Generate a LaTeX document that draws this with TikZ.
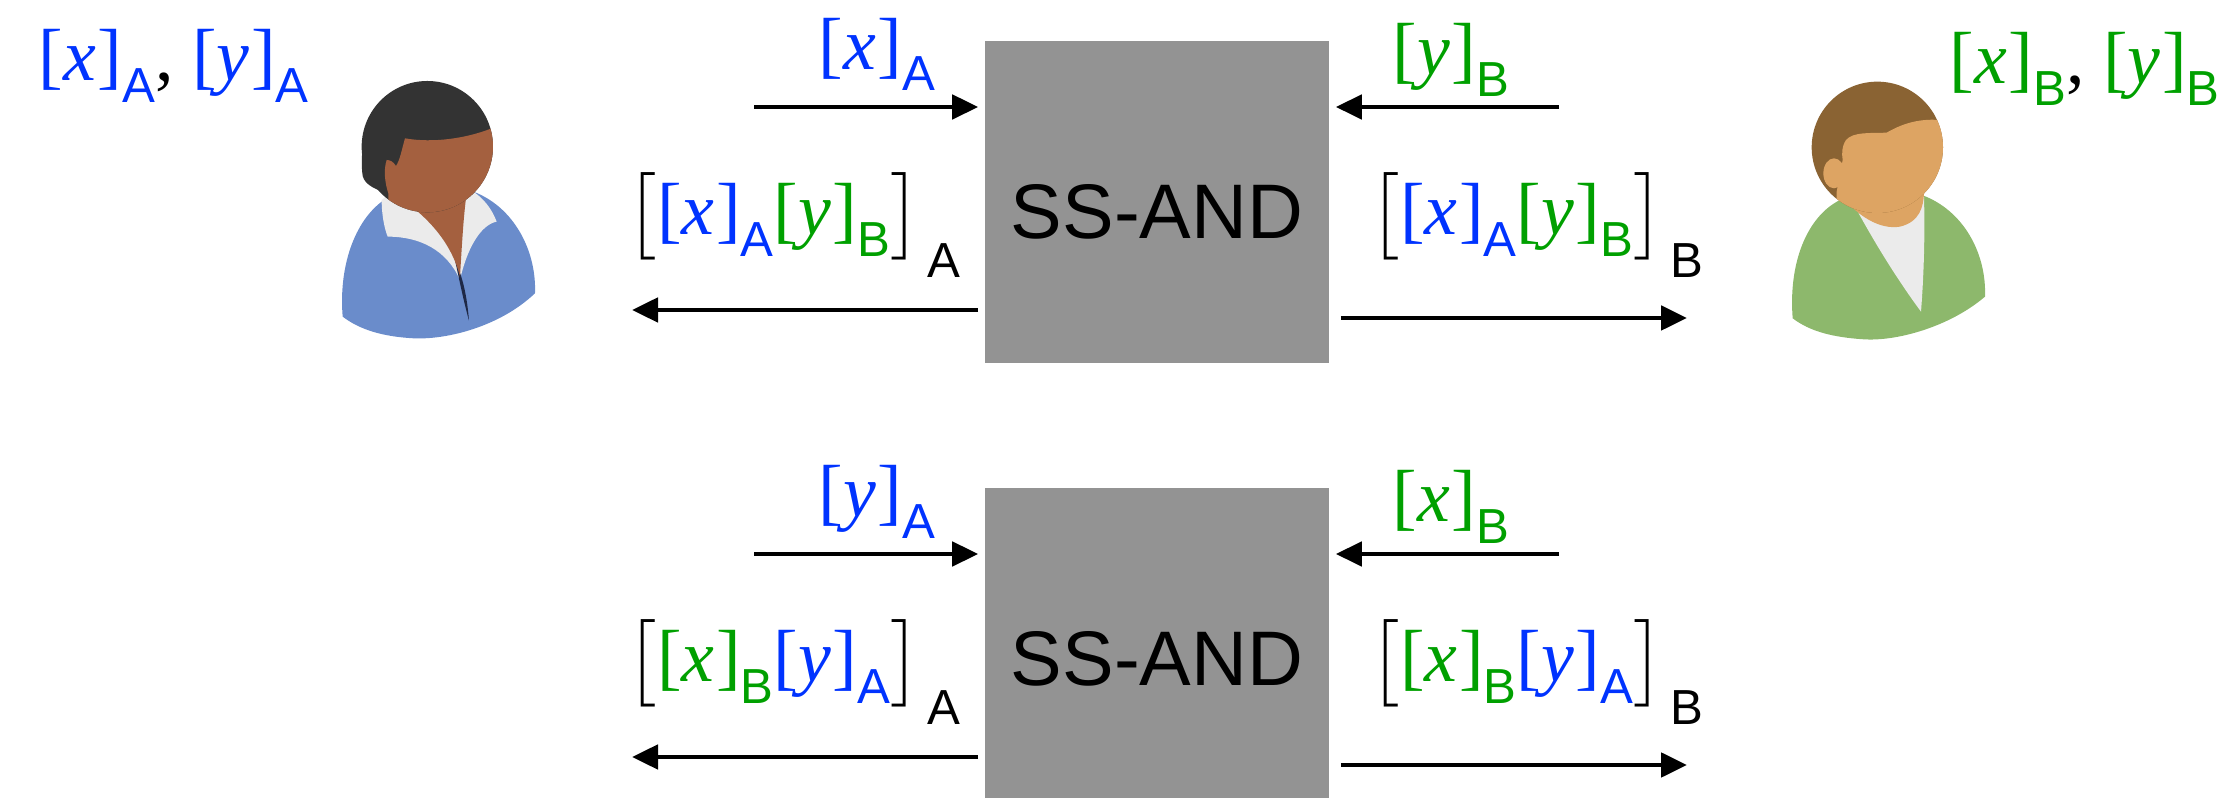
\documentclass[tikz,border=0pt]{standalone}
\usepackage{amsmath}
\usepackage{fontspec}
\setmainfont{Liberation Serif}
\setsansfont{Liberation Sans}
\usepackage{xcolor}
\usepackage{tikz}
\usetikzlibrary{positioning,arrows.meta}

\definecolor{shareA}{RGB}{0,51,255}
\definecolor{shareB}{RGB}{0,160,0}
\definecolor{gatefill}{RGB}{147,147,147}
\definecolor{aliceshirt}{RGB}{106,140,203}
\definecolor{aliceskin}{RGB}{164,96,63}
\definecolor{alicehair}{RGB}{51,51,51}
\definecolor{alicedark}{RGB}{30,40,70}
\definecolor{collar}{RGB}{235,235,235}
\definecolor{bobshirt}{RGB}{141,184,108}
\definecolor{bobskin}{RGB}{221,164,99}
\definecolor{bobhair}{RGB}{138,99,51}

% share notation: [v]_P in the colour of its owner
\newcommand{\subfont}{\fontsize{14}{14}\selectfont\sffamily}
\newcommand{\shr}[3]{\textcolor{#3}{[\textit{#1}\kern0.5pt]\lower0.21cm\hbox{\subfont #2}}}
\newcommand{\wrap}[3]{$\bigl[$#1#2$\bigr]$\kern2pt\lower0.42cm\hbox{\subfont #3}}

\begin{document}
\begin{tikzpicture}[x=0.01cm, y=-0.01cm,
    gate/.style={fill=gatefill, minimum width=3.43cm, minimum height=3.22cm,
        inner sep=0pt, text height=0.73cm, font=\fontsize{22}{26}\selectfont\sffamily},
    lbl/.style={anchor=base west, inner sep=0pt, font=\fontsize{21}{25}\selectfont},
    flow/.style={-{Triangle[length=0.26cm,width=0.24cm]}, line width=1.4pt}]
    \useasboundingbox (0,0) rectangle (2240,798);

    % Alice
    \begin{scope}[shift={(320,50)}, scale=0.3333]
        \fill[aliceshirt] (68,800) .. controls (55,640) and (110,500) .. (200,445)
            -- (460,425) .. controls (580,470) and (650,600) .. (645,730)
            .. controls (540,830) and (380,870) .. (280,865)
            .. controls (190,860) and (120,840) .. (68,800) -- cycle;
        \fill[collar] (185,450) .. controls (185,500) and (195,540) .. (203,560)
            .. controls (300,560) and (380,600) .. (420,690)
            .. controls (440,600) and (480,525) .. (530,515)
            .. controls (515,475) and (490,445) .. (460,425) -- (210,430) -- cycle;
        \fill[alicedark] (405,630) .. controls (432,690) and (442,750) .. (447,812)
            .. controls (430,750) and (418,690) .. (405,630) -- cycle;
        \fill[aliceskin] (205,420) .. controls (300,480) and (390,560) .. (420,680)
            .. controls (425,600) and (430,500) .. (440,430) -- cycle;
        % head: hair first, face cut out of it
        \fill[alicehair] (322,290) circle (197);
        \fill[alicehair] (205,430) .. controls (150,415) and (128,395) .. (127,370)
            .. controls (120,300) and (135,250) .. (160,200) -- (200,330)
            .. controls (190,360) and (195,400) .. (205,430) -- cycle;
        \begin{scope}
            \clip (322,290) circle (197);
            \fill[aliceskin] (515,235) .. controls (440,265) and (340,280) .. (255,265)
                .. controls (245,300) and (240,330) .. (228,348)
                .. controls (220,335) and (210,330) .. (200,330)
                .. controls (190,360) and (195,400) .. (205,430)
                -- (205,700) -- (700,700) -- (700,235) -- cycle;
        \end{scope}
    \end{scope}

    % Bob
    \begin{scope}[shift={(1770,50)}, scale=0.3333]
        \fill[bobshirt] (68,805) .. controls (55,640) and (110,500) .. (210,450)
            -- (455,435) .. controls (580,480) and (650,610) .. (645,740)
            .. controls (540,830) and (380,875) .. (280,868)
            .. controls (190,862) and (120,845) .. (68,805) -- cycle;
        \fill[collar] (255,470) .. controls (320,590) and (390,700) .. (453,785)
            .. controls (462,670) and (465,550) .. (462,440) -- cycle;
        \fill[bobskin] (200,420) .. controls (260,500) and (330,540) .. (390,530)
            .. controls (450,515) and (460,470) .. (462,430) -- cycle;
        \fill[bobhair] (322,292) circle (197);
        \begin{scope}
            \clip (322,292) circle (197);
            \fill[bobskin] (508,210) .. controls (440,205) and (390,225) .. (350,248)
                .. controls (300,250) and (250,245) .. (228,270)
                .. controls (215,290) and (215,310) .. (218,330)
                -- (200,425) -- (200,700) -- (700,700) -- (700,210) -- cycle;
        \end{scope}
        \fill[bobskin] (192,370) ellipse (32 and 45);
    \end{scope}

    % initial shares
    \node[lbl] (sharesA) at (38,81) {\shr{x}{A}{shareA},\ \shr{y}{A}{shareA}};
    \node[lbl] (sharesB) at (1949,84) {\shr{x}{B}{shareB},\ \shr{y}{B}{shareB}};

    % first AND: [x]_A with [y]_B
    \node[gate] (andA) at (1157,202) {SS-AND};
    \coordinate (inA1) at (754,107);
    \coordinate (inB1) at (1559,107);
    \coordinate (outA1) at (632,310);
    \coordinate (outB1) at (1687,318);
    \draw[flow, shorten >=0.065cm] (inA1) -- (inA1 -| andA.west);
    \draw[flow, shorten >=0.065cm] (inB1) -- (inB1 -| andA.east);
    \draw[flow, shorten <=0.065cm] (outA1 -| andA.west) -- (outA1);
    \draw[flow, shorten <=0.115cm] (outB1 -| andA.east) -- (outB1);
    \node[lbl] (lblxA) at (818,70) {\shr{x}{A}{shareA}};
    \node[lbl] (lblyB) at (1392,75) {\shr{y}{B}{shareB}};
    \node[lbl] (resA1) at (626,235) {\wrap{\shr{x}{A}{shareA}}{\shr{y}{B}{shareB}}{A}};
    \node[lbl] (resB1) at (1369,235) {\wrap{\shr{x}{A}{shareA}}{\shr{y}{B}{shareB}}{B}};

    % second AND: [x]_B with [y]_A
    \node[gate] (andB) at (1157,649) {SS-AND};
    \coordinate (inA2) at (754,554);
    \coordinate (inB2) at (1559,554);
    \coordinate (outA2) at (632,757);
    \coordinate (outB2) at (1687,765);
    \draw[flow, shorten >=0.065cm] (inA2) -- (inA2 -| andB.west);
    \draw[flow, shorten >=0.065cm] (inB2) -- (inB2 -| andB.east);
    \draw[flow, shorten <=0.065cm] (outA2 -| andB.west) -- (outA2);
    \draw[flow, shorten <=0.115cm] (outB2 -| andB.east) -- (outB2);
    \node[lbl] (lblyA) at (818,517) {\shr{y}{A}{shareA}};
    \node[lbl] (lblxB) at (1392,522) {\shr{x}{B}{shareB}};
    \node[lbl] (resA2) at (626,682) {\wrap{\shr{x}{B}{shareB}}{\shr{y}{A}{shareA}}{A}};
    \node[lbl] (resB2) at (1369,682) {\wrap{\shr{x}{B}{shareB}}{\shr{y}{A}{shareA}}{B}};
\end{tikzpicture}
\end{document}
